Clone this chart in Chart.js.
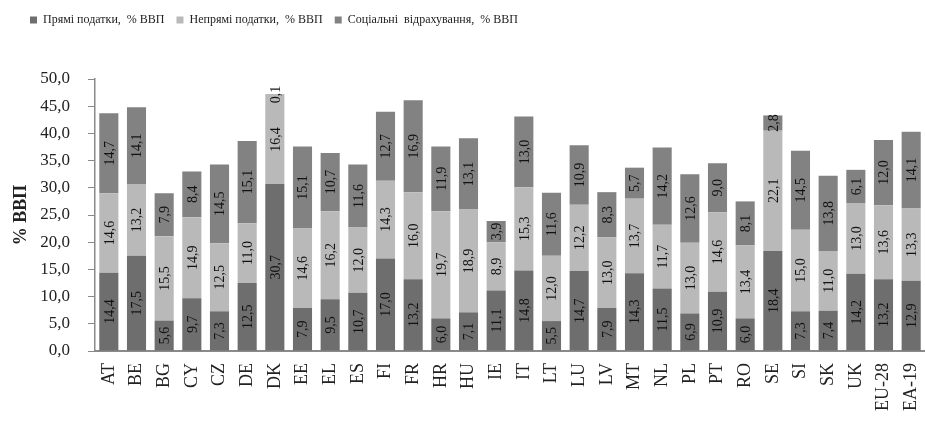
<!DOCTYPE html>
<html>
<head>
<meta charset="utf-8">
<script src="https://cdn.jsdelivr.net/npm/chart.js@4.4.1/dist/chart.umd.min.js"></script>
<style>
  html, body { margin: 0; padding: 0; background: #ffffff; }
  #wrap { position: relative; width: 925px; height: 423px; }
</style>
</head>
<body>
<div id="wrap"><canvas id="c" width="925" height="423"></canvas></div>
<script>
const categories = ['AT','BE','BG','CY','CZ','DE','DK','EE','EL','ES','FI','FR','HR','HU','IE','IT','LT','LU','LV','MT','NL','PL','PT','RO','SE','SI','SK','UK','EU-28','EA-19'];
const directTaxes = [14.4,17.5,5.6,9.7,7.3,12.5,30.7,7.9,9.5,10.7,17.0,13.2,6.0,7.1,11.1,14.8,5.5,14.7,7.9,14.3,11.5,6.9,10.9,6.0,18.4,7.3,7.4,14.2,13.2,12.9];
const indirectTaxes = [14.6,13.2,15.5,14.9,12.5,11.0,16.4,14.6,16.2,12.0,14.3,16.0,19.7,18.9,8.9,15.3,12.0,12.2,13.0,13.7,11.7,13.0,14.6,13.4,22.1,15.0,11.0,13.0,13.6,13.3];
const socialContrib = [14.7,14.1,7.9,8.4,14.5,15.1,0.1,15.1,10.7,11.6,12.7,16.9,11.9,13.1,3.9,13.0,11.6,10.9,8.3,5.7,14.2,12.6,9.0,8.1,2.8,14.5,13.8,6.1,12.0,14.1];
const seriesNames = ['Прямі податки,  % ВВП', 'Непрямі податки,  % ВВП', 'Соціальні  відрахування,  % ВВП'];
const yTitle = '% ВВП';

const fmt = v => v.toFixed(1).replace('.', ',');
const SERIF = '"Liberation Serif", "DejaVu Serif", serif';

const labelPlugin = {
  id: 'segLabels',
  afterDatasetsDraw(chart) {
    const ctx = chart.ctx;
    ctx.save();
    ctx.fillStyle = '#111';
    ctx.font = '14px ' + SERIF;
    ctx.textAlign = 'center';
    ctx.textBaseline = 'middle';
    chart.data.datasets.forEach((ds, di) => {
      const meta = chart.getDatasetMeta(di);
      meta.data.forEach((el, i) => {
        const v = ds.data[i];
        const cy = (el.y + el.base) / 2;
        ctx.save();
        ctx.translate(el.x, cy);
        ctx.rotate(-Math.PI / 2);
        ctx.fillText(fmt(v), 0, 1);
        ctx.restore();
      });
    });
    ctx.restore();
  }
};

const legendFitPlugin = {
  id: 'legendFit',
  beforeInit(chart) {
    const orig = chart.legend.fit;
    chart.legend.fit = function () {
      orig.bind(chart.legend)();
      this.height += 43;
    };
  }
};

new Chart(document.getElementById('c'), {
  type: 'bar',
  data: {
    labels: categories,
    datasets: [
      { label: seriesNames[0], data: directTaxes, backgroundColor: '#6e6e6e' },
      { label: seriesNames[1], data: indirectTaxes, backgroundColor: '#b9b9b9' },
      { label: seriesNames[2], data: socialContrib, backgroundColor: '#828282' }
    ]
  },
  options: {
    responsive: false,
    animation: false,
    devicePixelRatio: 1,
    layout: { padding: { top: 2, left: 18, right: 0, bottom: 0 } },
    datasets: { bar: { categoryPercentage: 1, barPercentage: 0.69 } },
    plugins: {
      legend: {
        position: 'top',
        align: 'start',
        labels: {
          boxWidth: 7, boxHeight: 7, padding: 12,
          color: '#222',
          font: { family: SERIF, size: 12 }
        }
      },
      tooltip: { enabled: false }
    },
    scales: {
      x: {
        stacked: true,
        grid: { display: false, drawTicks: false },
        border: { color: '#8a8a8a', width: 2 },
        ticks: {
          minRotation: 90, maxRotation: 90, autoSkip: false,
          padding: 12, color: '#222',
          font: { family: SERIF, size: 18 }
        },
        afterFit(scale) { scale.height = 72; scale.paddingRight = 0; scale.paddingLeft = 0; }
      },
      y: {
        stacked: true,
        min: 0, max: 50,
        grid: { drawOnChartArea: false, drawTicks: true, tickLength: 7, color: '#8a8a8a' },
        border: { color: '#8a8a8a', width: 1.5 },
        ticks: {
          stepSize: 5, padding: 18, color: '#222',
          font: { family: SERIF, size: 17 },
          callback: v => fmt(v)
        },
        title: {
          display: true, text: yTitle, color: '#222',
          font: { family: SERIF, size: 18, weight: 'bold' },
          padding: { top: -7, bottom: 0 }
        },
        afterFit(scale) { scale.width = 77; }
      }
    }
  },
  plugins: [labelPlugin, legendFitPlugin]
});
</script>
</body>
</html>
